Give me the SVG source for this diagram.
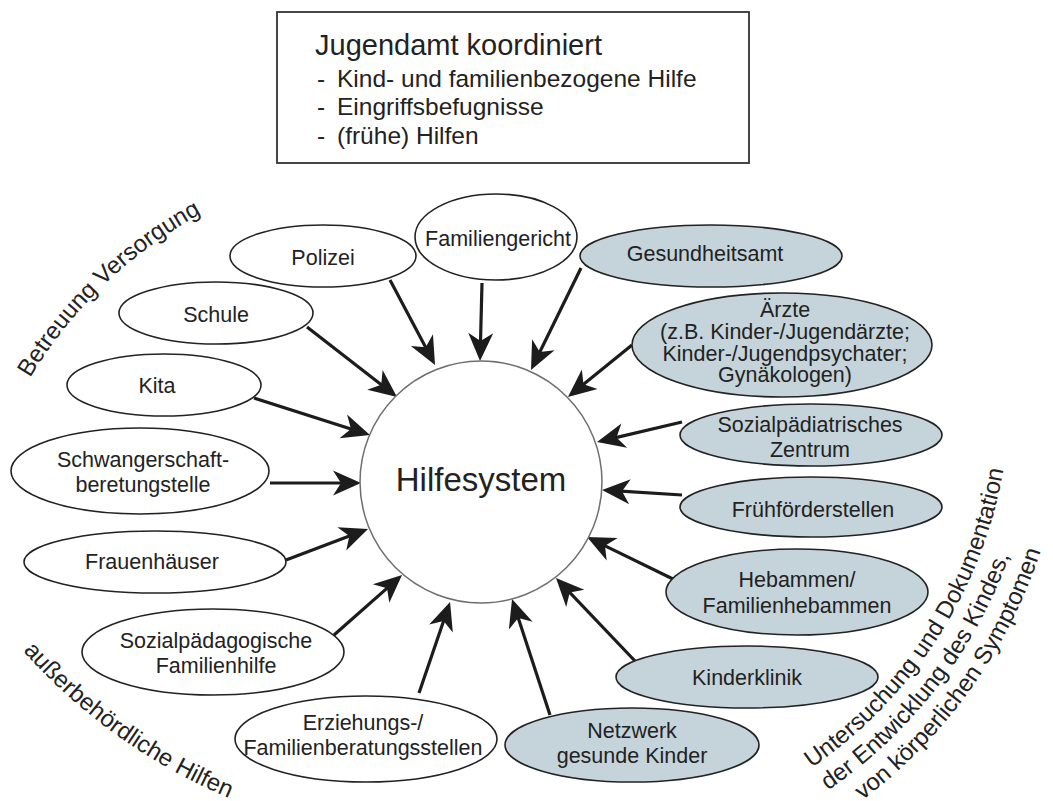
<svg xmlns="http://www.w3.org/2000/svg" width="1053" height="801" viewBox="0 0 1053 801">
<style>
text{font-family:"Liberation Sans",Arial,sans-serif;fill:#222;}
.lbl{font-size:21.5px;text-anchor:middle;}
.w{fill:#fff;stroke:#222;stroke-width:1.6;}
.b{fill:#c5d4da;stroke:#222;stroke-width:1.6;}
.arr{stroke:#1c1c1c;stroke-width:3.2;fill:none;marker-end:url(#ah);}
.curve{font-size:24px;}
</style>
<defs>
<marker id="ah" markerUnits="userSpaceOnUse" markerWidth="34" markerHeight="28" viewBox="-15 -14 34 28" refX="0" refY="0" orient="auto">
<path d="M15,0 L-13,-12.5 L-5,0 L-13,12.5 Z" fill="#1c1c1c"/>
</marker>
<path id="p1" d="M30,378 A453,453 0 0 1 262,186"/>
<path id="p2" d="M23,651 A574,574 0 0 0 302,823"/>
<path id="p3" d="M811.4,767.9 A455,455 0 0 0 1008.3,352.3"/>
<path id="p4" d="M827.9,790.5 A483,483 0 0 0 1036.2,349.9"/>
<path id="p5" d="M862.5,800.1 A511,511 0 0 0 1064.1,347.5"/>
</defs>

<g id="header">
<rect x="277" y="12" width="472" height="151" fill="#fff" stroke="#333" stroke-width="1.8"/>
<text x="315" y="55" font-size="29">Jugendamt koordiniert</text>
<text font-size="24.5" y="87"><tspan x="317">-</tspan><tspan x="337">Kind- und familienbezogene Hilfe</tspan></text>
<text font-size="24.5" y="115"><tspan x="317">-</tspan><tspan x="337">Eingriffsbefugnisse</tspan></text>
<text font-size="24.5" y="144"><tspan x="317">-</tspan><tspan x="337">(frühe) Hilfen</tspan></text>
</g>

<g id="connectors">
<line class="arr" x1="390" y1="280" x2="428" y2="351.7"/>
<line class="arr" x1="307" y1="327" x2="385.2" y2="387.8"/>
<line class="arr" x1="254" y1="398" x2="355.7" y2="430.4"/>
<line class="arr" x1="270" y1="483" x2="346" y2="483"/>
<line class="arr" x1="286" y1="560" x2="354" y2="534.3"/>
<line class="arr" x1="334" y1="635" x2="390.8" y2="584.9"/>
<line class="arr" x1="419" y1="693" x2="445.2" y2="616.2"/>
<line class="arr" x1="482" y1="283" x2="480.4" y2="346"/>
<line class="arr" x1="581" y1="268" x2="537.6" y2="356.5"/>
<line class="arr" x1="632" y1="345" x2="579.6" y2="387.5"/>
<line class="arr" x1="682" y1="422" x2="611.6" y2="438.6"/>
<line class="arr" x1="682" y1="495" x2="617" y2="490.9"/>
<line class="arr" x1="675" y1="580" x2="600.5" y2="543.6"/>
<line class="arr" x1="635" y1="661" x2="566.3" y2="588.9"/>
<line class="arr" x1="550" y1="715" x2="516.7" y2="613.3"/>
</g>

<g id="hilfesystem">
<circle cx="481" cy="482" r="121" fill="#fff" stroke="#6e6e6e" stroke-width="1.5"/>
<text x="481" y="491" font-size="33" text-anchor="middle">Hilfesystem</text>
</g>

<g id="polizei"><ellipse class="w" cx="323" cy="256" rx="93" ry="31"/><text class="lbl" x="323" y="265">Polizei</text></g>
<g id="familiengericht"><ellipse class="w" cx="496" cy="237" rx="81" ry="43"/><text class="lbl" x="498" y="246">Familiengericht</text></g>
<g id="schule"><ellipse class="w" cx="216" cy="313" rx="97" ry="31"/><text class="lbl" x="216" y="321.5">Schule</text></g>
<g id="kita"><ellipse class="w" cx="164" cy="385" rx="97" ry="31"/><text class="lbl" x="157" y="393">Kita</text></g>
<g id="schwangerschaft"><ellipse class="w" cx="140" cy="471" rx="129" ry="43"/><text class="lbl" x="143" y="466.5">Schwangerschaft-</text><text class="lbl" x="143" y="492">beretungstelle</text></g>
<g id="frauenhaeuser"><ellipse class="w" cx="155" cy="562" rx="131" ry="31"/><text class="lbl" x="152" y="569">Frauenhäuser</text></g>
<g id="sozialpaedagogische"><ellipse class="w" cx="213" cy="652" rx="131" ry="43"/><text class="lbl" x="216" y="647.5">Sozialpädagogische</text><text class="lbl" x="216" y="673">Familienhilfe</text></g>
<g id="erziehungsberatung"><ellipse class="w" cx="366" cy="739" rx="131" ry="43"/><text class="lbl" x="363" y="729.5">Erziehungs-/</text><text class="lbl" x="363" y="755">Familienberatungsstellen</text></g>

<g id="gesundheitsamt"><ellipse class="b" cx="711" cy="256" rx="131" ry="31"/><text class="lbl" x="705" y="261">Gesundheitsamt</text></g>
<g id="aerzte"><ellipse class="b" cx="782" cy="345" rx="150" ry="52"/>
<text class="lbl" x="785" y="317">Ärzte</text>
<text class="lbl" x="785" y="339">(z.B. Kinder-/Jugendärzte;</text>
<text class="lbl" x="785" y="360.5">Kinder-/Jugendpsychater;</text>
<text class="lbl" x="785" y="382">Gynäkologen)</text></g>
<g id="spz"><ellipse class="b" cx="811" cy="435" rx="131" ry="31"/><text class="lbl" x="810" y="431.5">Sozialpädiatrisches</text><text class="lbl" x="810" y="457">Zentrum</text></g>
<g id="fruehfoerderstellen"><ellipse class="b" cx="811" cy="507" rx="131" ry="30"/><text class="lbl" x="813" y="517">Frühförderstellen</text></g>
<g id="hebammen"><ellipse class="b" cx="797" cy="592" rx="131" ry="43"/><text class="lbl" x="797" y="587">Hebammen/</text><text class="lbl" x="797" y="613">Familienhebammen</text></g>
<g id="kinderklinik"><ellipse class="b" cx="747" cy="677" rx="131" ry="31"/><text class="lbl" x="747" y="685">Kinderklinik</text></g>
<g id="netzwerk"><ellipse class="b" cx="632" cy="745" rx="127" ry="37"/><text class="lbl" x="632" y="738">Netzwerk</text><text class="lbl" x="632" y="763">gesunde Kinder</text></g>

<g id="curved-labels">
<text class="curve"><textPath href="#p1">Betreuung Versorgung</textPath></text>
<text class="curve"><textPath href="#p2">außerbehördliche Hilfen</textPath></text>
<text class="curve" font-size="25"><textPath href="#p3">Untersuchung und Dokumentation</textPath></text>
<text class="curve" font-size="25"><textPath href="#p4">der Entwicklung des Kindes,</textPath></text>
<text class="curve" font-size="25"><textPath href="#p5">von körperlichen Symptomen</textPath></text>
</g>
</svg>
